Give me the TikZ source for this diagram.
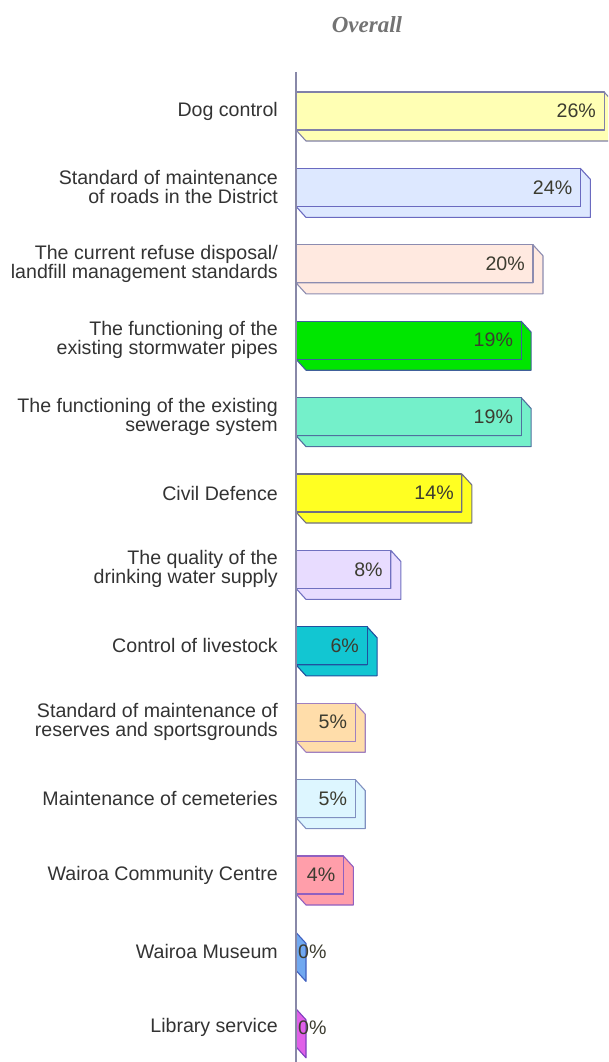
\documentclass[tikz,border=0pt]{standalone}
\usepackage{fontspec}
\setmainfont{Liberation Sans}
\newfontfamily\titlefont{Liberation Serif}
\definecolor{c1}{HTML}{FFFFB4}\definecolor{o1}{HTML}{8080A8}
\definecolor{c2}{HTML}{DDE8FF}\definecolor{o2}{HTML}{6A6AC0}
\definecolor{c3}{HTML}{FFE9E0}\definecolor{o3}{HTML}{8C8CB0}
\definecolor{c4}{HTML}{00E600}\definecolor{o4}{HTML}{40609A}
\definecolor{c5}{HTML}{74F0CA}\definecolor{o5}{HTML}{50709E}
\definecolor{c6}{HTML}{FFFF22}\definecolor{o6}{HTML}{707080}
\definecolor{c7}{HTML}{E8DCFF}\definecolor{o7}{HTML}{7070C0}
\definecolor{c8}{HTML}{12C6D2}\definecolor{o8}{HTML}{20509E}
\definecolor{c9}{HTML}{FFDDAA}\definecolor{o9}{HTML}{A080C0}
\definecolor{c10}{HTML}{DDF6FF}\definecolor{o10}{HTML}{8090C0}
\definecolor{c11}{HTML}{FF9EAA}\definecolor{o11}{HTML}{9060C0}
\definecolor{c12}{HTML}{70A8F0}\definecolor{o12}{HTML}{4060C0}
\definecolor{c13}{HTML}{E060E8}\definecolor{o13}{HTML}{8040C0}
\definecolor{axiscol}{HTML}{8888A8}
\definecolor{txt}{HTML}{333333}
\definecolor{pcttxt}{HTML}{3C3C30}
\begin{document}
\begin{tikzpicture}[x=1pt,y=-1pt,
  cat/.style={anchor=east,align=right,inner sep=0pt,text=txt,font=\fontsize{19.6}{19}\selectfont},
  pct/.style={inner sep=0pt,text=pcttxt,font=\fontsize{19.6}{19}\selectfont},
  barline/.style={line width=1.1pt,line join=round}]
\clip (0,0) rectangle (608,1062);
\node[text=black!55,font=\titlefont\itshape\bfseries\fontsize{23}{23}\selectfont] (title) at (367,25) {Overall};
\foreach \i/\v/\lab in {
 1/26/{Dog control},
 2/24/{Standard of maintenance\\of roads in the District},
 3/20/{The current refuse disposal/\\landfill management standards},
 4/19/{The functioning of the\\existing stormwater pipes},
 5/19/{The functioning of the existing\\sewerage system},
 6/14/{Civil Defence},
 7/8/{The quality of the\\drinking water supply},
 8/6/{Control of livestock},
 9/5/{Standard of maintenance of\\reserves and sportsgrounds},
 10/5/{Maintenance of cemeteries},
 11/4/{Wairoa Community Centre},
 12/0/{Wairoa Museum},
 13/0/{Library service}}
{
 \pgfmathsetmacro\cy{111+76.4*(\i-1)}
 \pgfmathsetmacro\R{296+11.85*\v}
 \filldraw[barline,fill=c\i,draw=o\i] (296,\cy+19) -- (\R,\cy+19) -- (\R,\cy-19) -- (\R+10,\cy-8) -- (\R+10,\cy+30) -- (306,\cy+30) -- cycle;
 \ifnum\v>0
  \filldraw[barline,fill=c\i,draw=o\i] (296,\cy-19) rectangle (\R,\cy+19);
  \node[pct,anchor=east] (p\i) at (\R-8,\cy) {\v\%};
 \else
  \node[pct,anchor=west] (p\i) at (298,\cy) {0\%};
 \fi
 \node[cat] (l\i) at (278,\cy) {\lab};
}
\coordinate (axtop) at (296,72);
\coordinate (axbot) at (296,1062);
\draw[axiscol,line width=1.8pt] (axtop) -- (axbot);
\end{tikzpicture}
\end{document}
